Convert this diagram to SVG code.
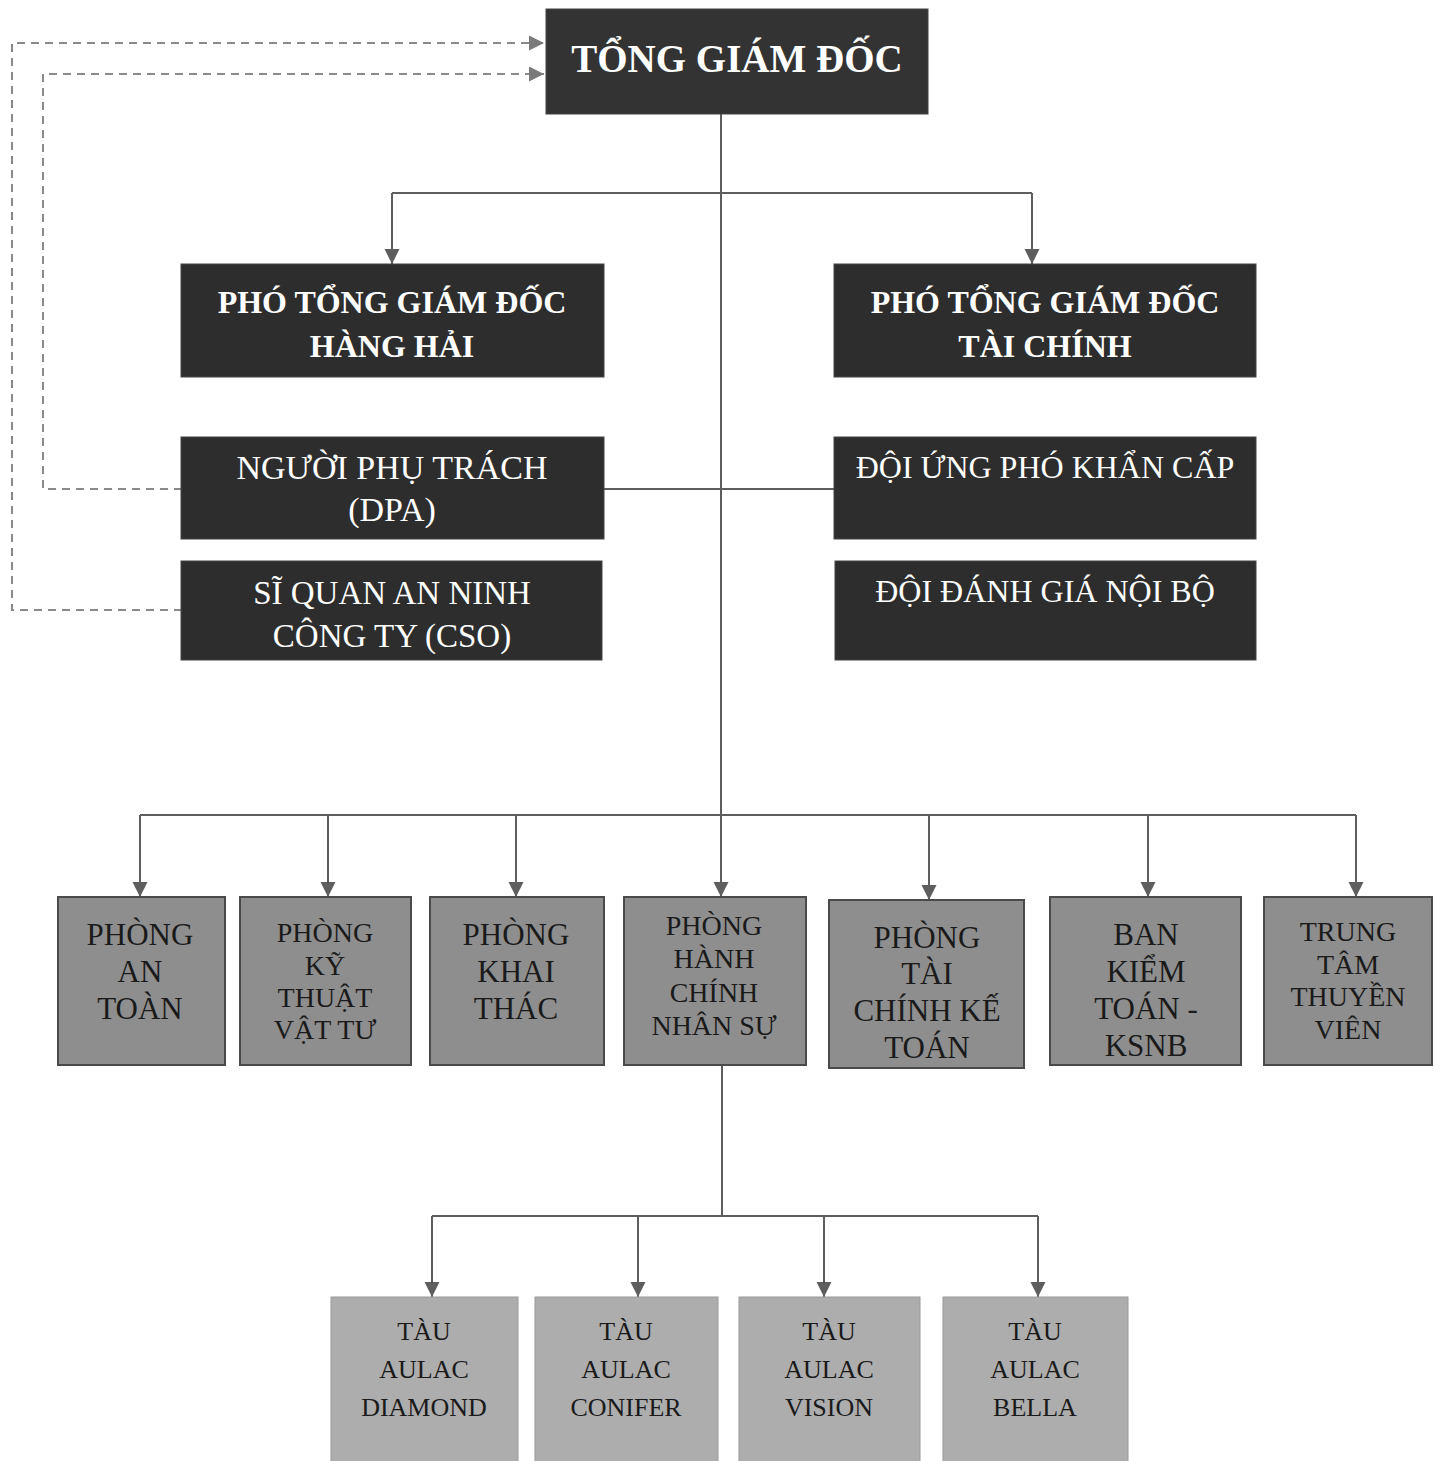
<svg xmlns="http://www.w3.org/2000/svg" width="1434" height="1461" viewBox="0 0 1434 1461">
<style>
.dark{fill:#2d2d2d;stroke:#444;stroke-width:1}
.top{fill:#333333;stroke:#444;stroke-width:1}
.dept{fill:#8e8e8e;stroke:#4a4a4a;stroke-width:2}
.ship{fill:#adadad;stroke:#9a9a9a;stroke-width:1}
.tw{font-family:"Liberation Serif","Times New Roman",serif;fill:#ffffff;text-anchor:middle}
.tb{font-family:"Liberation Serif","Times New Roman",serif;fill:#1a1a1a;text-anchor:middle}
.b{font-weight:bold}
.ln{fill:none;stroke:#5e5e5e;stroke-width:2}
.ds{fill:none;stroke:#8a8a8a;stroke-width:2;stroke-dasharray:8 6}
</style>
<defs>
<marker id="ar" markerUnits="userSpaceOnUse" markerWidth="18" markerHeight="18" refX="15" refY="7.5" orient="auto">
<path d="M0,0 L15,7.5 L0,15 z" fill="#5e5e5e"/>
</marker>
<marker id="ard" markerUnits="userSpaceOnUse" markerWidth="18" markerHeight="18" refX="15" refY="7.5" orient="auto">
<path d="M0,0 L15,7.5 L0,15 z" fill="#7a7a7a"/>
</marker>
</defs>
<rect width="1434" height="1461" fill="#ffffff"/>

<g id="connectors">
<path class="ds" d="M182,610 H12 V43 H544" marker-end="url(#ard)"/>
<path class="ds" d="M182,489 H43 V74 H544" marker-end="url(#ard)"/>
<path class="ln" d="M721,114 V897" marker-end="url(#ar)"/>
<path class="ln" d="M392,193 H1032"/>
<path class="ln" d="M392,193 V264" marker-end="url(#ar)"/>
<path class="ln" d="M1032,193 V264" marker-end="url(#ar)"/>
<path class="ln" d="M604,489 H834"/>
<path class="ln" d="M140,815 H1356"/>
<path class="ln" d="M140,815 V897" marker-end="url(#ar)"/>
<path class="ln" d="M328,815 V897" marker-end="url(#ar)"/>
<path class="ln" d="M516,815 V897" marker-end="url(#ar)"/>
<path class="ln" d="M929,815 V900" marker-end="url(#ar)"/>
<path class="ln" d="M1148,815 V897" marker-end="url(#ar)"/>
<path class="ln" d="M1356,815 V897" marker-end="url(#ar)"/>
<path class="ln" d="M722,1065 V1216"/>
<path class="ln" d="M432,1216 H1038"/>
<path class="ln" d="M432,1216 V1297" marker-end="url(#ar)"/>
<path class="ln" d="M638,1216 V1297" marker-end="url(#ar)"/>
<path class="ln" d="M824,1216 V1297" marker-end="url(#ar)"/>
<path class="ln" d="M1038,1216 V1297" marker-end="url(#ar)"/>
</g>

<g id="tgd">
<rect class="top" x="546" y="9" width="382" height="105"/>
<text class="tw b" x="737" y="72" font-size="39">TỔNG GIÁM ĐỐC</text>
</g>
<g id="ptgd-hh">
<rect class="dark" x="181" y="264" width="423" height="113"/>
<text class="tw b" x="392" y="313" font-size="32">PHÓ TỔNG GIÁM ĐỐC</text>
<text class="tw b" x="392" y="357" font-size="32">HÀNG HẢI</text>
</g>
<g id="ptgd-tc">
<rect class="dark" x="834" y="264" width="422" height="113"/>
<text class="tw b" x="1045" y="313" font-size="32">PHÓ TỔNG GIÁM ĐỐC</text>
<text class="tw b" x="1045" y="357" font-size="32">TÀI CHÍNH</text>
</g>
<g id="dpa">
<rect class="dark" x="181" y="437" width="423" height="102"/>
<text class="tw" x="392" y="479" font-size="34">NGƯỜI PHỤ TRÁCH</text>
<text class="tw" x="392" y="521" font-size="34">(DPA)</text>
</g>
<g id="cso">
<rect class="dark" x="181" y="561" width="421" height="99"/>
<text class="tw" x="392" y="604" font-size="33">SĨ QUAN AN NINH</text>
<text class="tw" x="392" y="647" font-size="33">CÔNG TY (CSO)</text>
</g>
<g id="ungpho">
<rect class="dark" x="834" y="437" width="422" height="102"/>
<text class="tw" x="1045" y="478" font-size="32">ĐỘI ỨNG PHÓ KHẨN CẤP</text>
</g>
<g id="danhgia">
<rect class="dark" x="835" y="561" width="421" height="99"/>
<text class="tw" x="1045" y="602" font-size="32">ĐỘI ĐÁNH GIÁ NỘI BỘ</text>
</g>

<g id="p-antoan">
<rect class="dept" x="58" y="897" width="167" height="168"/>
<text class="tb" x="140" y="945" font-size="31">PHÒNG</text>
<text class="tb" x="140" y="982" font-size="31">AN</text>
<text class="tb" x="140" y="1019" font-size="31">TOÀN</text>
</g>
<g id="p-kythuat">
<rect class="dept" x="240" y="897" width="171" height="168"/>
<text class="tb" x="325" y="942" font-size="28">PHÒNG</text>
<text class="tb" x="325" y="975" font-size="28">KỸ</text>
<text class="tb" x="325" y="1007" font-size="28">THUẬT</text>
<text class="tb" x="325" y="1039" font-size="28">VẬT TƯ</text>
</g>
<g id="p-khaithac">
<rect class="dept" x="430" y="897" width="174" height="168"/>
<text class="tb" x="516" y="945" font-size="31">PHÒNG</text>
<text class="tb" x="516" y="982" font-size="31">KHAI</text>
<text class="tb" x="516" y="1019" font-size="31">THÁC</text>
</g>
<g id="p-hcns">
<rect class="dept" x="624" y="897" width="182" height="168"/>
<text class="tb" x="714" y="935" font-size="28">PHÒNG</text>
<text class="tb" x="714" y="968" font-size="28">HÀNH</text>
<text class="tb" x="714" y="1002" font-size="28">CHÍNH</text>
<text class="tb" x="714" y="1035" font-size="28">NHÂN SỰ</text>
</g>
<g id="p-tckt">
<rect class="dept" x="829" y="900" width="195" height="168"/>
<text class="tb" x="927" y="948" font-size="31">PHÒNG</text>
<text class="tb" x="927" y="984" font-size="31">TÀI</text>
<text class="tb" x="927" y="1021" font-size="31">CHÍNH KẾ</text>
<text class="tb" x="927" y="1058" font-size="31">TOÁN</text>
</g>
<g id="p-kiemtoan">
<rect class="dept" x="1050" y="897" width="191" height="168"/>
<text class="tb" x="1146" y="945" font-size="31">BAN</text>
<text class="tb" x="1146" y="982" font-size="31">KIỂM</text>
<text class="tb" x="1146" y="1019" font-size="31">TOÁN -</text>
<text class="tb" x="1146" y="1056" font-size="31">KSNB</text>
</g>
<g id="p-thuyenvien">
<rect class="dept" x="1264" y="897" width="168" height="168"/>
<text class="tb" x="1348" y="941" font-size="28">TRUNG</text>
<text class="tb" x="1348" y="974" font-size="28">TÂM</text>
<text class="tb" x="1348" y="1006" font-size="28">THUYỀN</text>
<text class="tb" x="1348" y="1039" font-size="28">VIÊN</text>
</g>

<g id="s-diamond">
<rect class="ship" x="331" y="1297" width="187" height="170"/>
<text class="tb" x="424" y="1340" font-size="26">TÀU</text>
<text class="tb" x="424" y="1378" font-size="26">AULAC</text>
<text class="tb" x="424" y="1416" font-size="26">DIAMOND</text>
</g>
<g id="s-conifer">
<rect class="ship" x="535" y="1297" width="183" height="170"/>
<text class="tb" x="626" y="1340" font-size="26">TÀU</text>
<text class="tb" x="626" y="1378" font-size="26">AULAC</text>
<text class="tb" x="626" y="1416" font-size="26">CONIFER</text>
</g>
<g id="s-vision">
<rect class="ship" x="739" y="1297" width="181" height="170"/>
<text class="tb" x="829" y="1340" font-size="26">TÀU</text>
<text class="tb" x="829" y="1378" font-size="26">AULAC</text>
<text class="tb" x="829" y="1416" font-size="26">VISION</text>
</g>
<g id="s-bella">
<rect class="ship" x="943" y="1297" width="185" height="170"/>
<text class="tb" x="1035" y="1340" font-size="26">TÀU</text>
<text class="tb" x="1035" y="1378" font-size="26">AULAC</text>
<text class="tb" x="1035" y="1416" font-size="26">BELLA</text>
</g>
</svg>
